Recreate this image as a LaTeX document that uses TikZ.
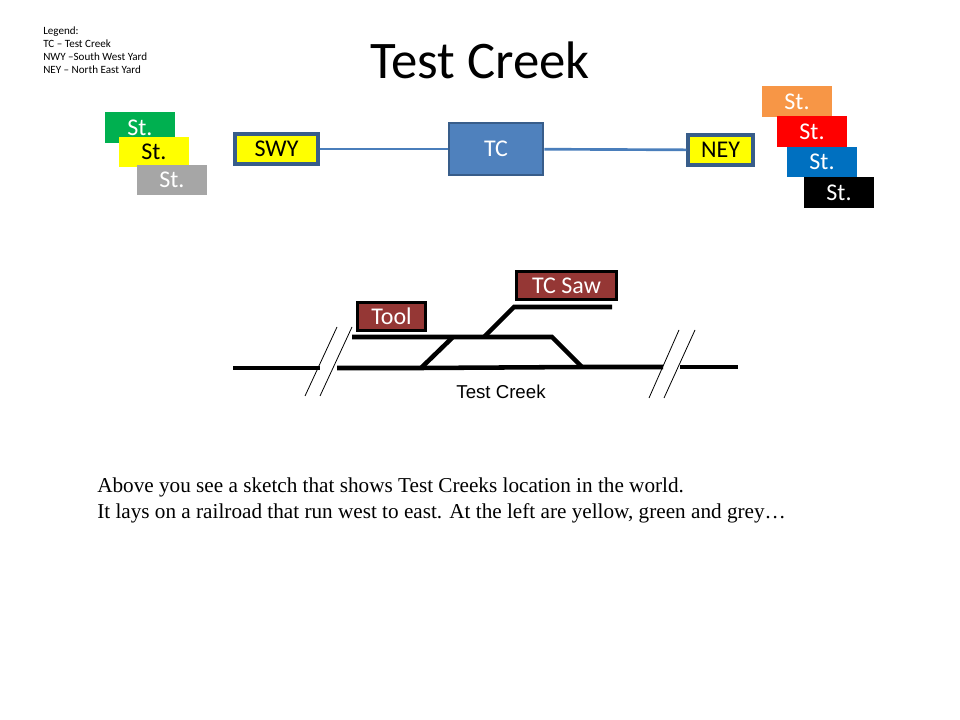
\documentclass[tikz,border=0pt]{standalone}
\usepackage{fontspec}
\setmainfont{Carlito}
\newfontfamily\bodyserif{Liberation Serif}
\newfontfamily\labelsans{Liberation Sans}
\definecolor{stgreen}{HTML}{00B050}
\definecolor{styellow}{HTML}{FFFF00}
\definecolor{stgrey}{HTML}{A6A6A6}
\definecolor{storange}{HTML}{F79646}
\definecolor{stred}{HTML}{FF0000}
\definecolor{stblue}{HTML}{0070C0}
\definecolor{yardedge}{HTML}{385D8A}
\definecolor{tcfill}{HTML}{4F81BD}
\definecolor{linkblue}{HTML}{4A7EBB}
\definecolor{maroon}{HTML}{953735}
\tikzset{
  station/.style={minimum width=52.5pt,minimum height=23pt,inner sep=0pt,font=\fontsize{18}{22}\selectfont,text=white},
  yard/.style={draw=yardedge,line width=2.4pt,fill=styellow,inner sep=0pt,font=\fontsize{18}{22}\selectfont},
  hub/.style={draw=yardedge,line width=2.1pt,fill=tcfill,inner sep=0pt,text=white,font=\fontsize{18}{22}\selectfont},
  place/.style={draw=black,line width=2.4pt,fill=maroon,inner sep=0pt,text=white,font=\fontsize{18}{22}\selectfont},
  track/.style={line width=3.4pt,black},
  gapmark/.style={line width=0.6pt,black},
  link/.style={line width=2pt,linkblue}
}
\begin{document}
\begin{tikzpicture}[x=0.75pt,y=-0.75pt]
\useasboundingbox (0,0) rectangle (960,720);

% Legend and title
\node[anchor=north west,inner sep=0pt,align=left,font=\fontsize{8.3}{9.6}\selectfont] (legend) at (43,27)
  {Legend:\\TC – Test Creek\\NWY –South West Yard\\NEY – North East Yard};
\node[inner sep=0pt,font=\fontsize{39.6}{44}\selectfont] (title) at (480,60) {Test Creek};

% Connecting line between the yards
\node[yard,minimum width=83pt/1.333,minimum height=30pt/1.333] (swy) at (276.5,149) {SWY};
\node[hub,minimum width=94pt/1.333,minimum height=52pt/1.333] (tc) at (496,149) {TC};
\node[yard,minimum width=65pt/1.333,minimum height=30pt/1.333] (ney) at (720.5,150) {NEY};
\draw[link] (swy) -- (tc);
\draw[link] (tc) -- (ney);

% Stations west of the line
\node[station,fill=stgreen] (w1) at (140,127.5) {St.};
\node[station,fill=styellow,text=black] (w2) at (154,152) {St.};
\node[station,fill=stgrey] (w3) at (172,180) {St.};

% Stations east of the line
\node[station,fill=storange] (e1) at (797,101.5) {St.};
\node[station,fill=stred] (e2) at (812,131.5) {St.};
\node[station,fill=stblue] (e3) at (822,162) {St.};
\node[station,fill=black] (e4) at (839,192.5) {St.};

% Track plan
\coordinate (m1) at (233,368);
\coordinate (m2) at (320,368);
\coordinate (m3) at (337,368);
\coordinate (sw1) at (421,368);
\coordinate (sw4) at (582,367);
\coordinate (m4) at (663,367);
\coordinate (m5) at (680,367);
\coordinate (m6) at (738,367);
\coordinate (s1) at (352,337);
\coordinate (sw2) at (453,337);
\coordinate (sw3) at (484,337);
\coordinate (s2) at (552,337);
\coordinate (u1) at (514,307);
\coordinate (u2) at (612,307);
\draw[track] (m1) -- (m2);
\draw[track] (m3) -- (sw1) -- (sw4) -- (m4);
\draw[track] (m5) -- (m6);
\draw[track] (s1) -- (s2) -- (sw4);
\draw[track] (sw1) -- (sw2);
\draw[track] (sw3) -- (u1) -- (u2);

% Break marks on the line
\coordinate (g1a) at (305,396); \coordinate (g1b) at (337,327);
\coordinate (g2a) at (320,396); \coordinate (g2b) at (352,327);
\coordinate (g3a) at (649,398); \coordinate (g3b) at (679,330);
\coordinate (g4a) at (664,398); \coordinate (g4b) at (695,330);
\draw[gapmark] (g1a) -- (g1b);
\draw[gapmark] (g2a) -- (g2b);
\draw[gapmark] (g3a) -- (g3b);
\draw[gapmark] (g4a) -- (g4b);

% Industries
\node[place,minimum width=68pt/1.333,minimum height=28pt/1.333] (tool) at (391.5,316.5) {Tool};
\node[place,minimum width=100pt/1.333,minimum height=28pt/1.333] (saw) at (566.5,285.5) {TC Saw};
\node[inner sep=0pt,font=\labelsans\fontsize{14}{16}\selectfont] (place) at (501,392) {Test Creek};

% Description
\node[anchor=north west,inner sep=0pt,align=left,font=\bodyserif\fontsize{15.9}{19.5}\selectfont] (desc) at (97,478)
  {Above you see a sketch that shows Test Creeks location in the world.\\
   It lays on a railroad that run west to east. At the left are yellow, green and grey…};
\end{tikzpicture}
\end{document}
